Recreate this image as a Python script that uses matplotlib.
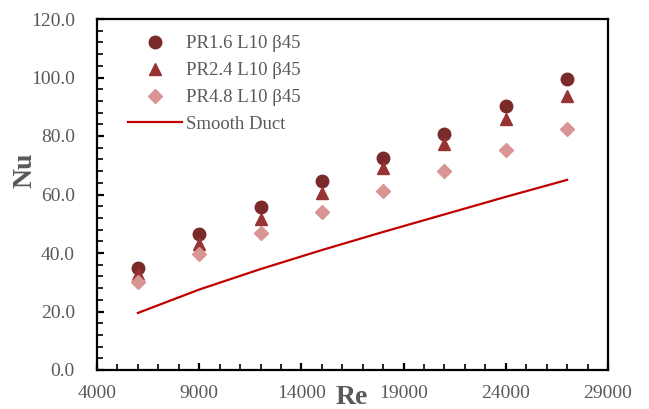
import matplotlib
matplotlib.use("Agg")
import matplotlib.pyplot as plt
from matplotlib.ticker import MultipleLocator, FormatStrFormatter, FixedLocator

re_vals = [6000, 9000, 12000, 15000, 18000, 21000, 24000, 27000]
nu_pr16 = [34.9, 46.4, 55.8, 64.5, 72.6, 80.8, 90.3, 99.5]
nu_pr24 = [32.8, 43.2, 51.6, 60.5, 69.0, 77.3, 85.8, 93.6]
nu_pr48 = [30.0, 39.6, 46.8, 54.0, 61.1, 68.0, 75.2, 82.4]
nu_smooth = [19.5, 27.5, 34.5, 41.0, 47.2, 53.2, 59.2, 65.0]

labels = ["PR1.6 L10 β45", "PR2.4 L10 β45", "PR4.8 L10 β45", "Smooth Duct"]
x_ticks = [4000, 9000, 14000, 19000, 24000, 29000]

plt.rcParams['font.family'] = ['Liberation Serif', 'DejaVu Serif']
gray = '#595959'

fig = plt.figure(figsize=(6.49, 4.09), dpi=100)
ax = fig.add_axes([97/649, 1-370/409, (608-97)/649, (370-19)/409])

ax.plot(re_vals, nu_pr16, 'o', color='#7B2A2A', markersize=9, label=labels[0], zorder=3)
ax.plot(re_vals, nu_pr24, '^', color='#983333', markersize=9, label=labels[1], zorder=3)
ax.plot(re_vals, nu_pr48, 'D', color='#D99594', markersize=7, label=labels[2], zorder=3)
ax.plot(re_vals, nu_smooth, '-', color='#C00000', linewidth=1.6, label=labels[3], zorder=2)

ax.set_xlim(4000, 29000)
ax.set_ylim(0, 120)
ax.xaxis.set_major_locator(FixedLocator(x_ticks))
ax.xaxis.set_minor_locator(MultipleLocator(1000))
ax.yaxis.set_major_locator(MultipleLocator(20))
ax.yaxis.set_minor_locator(MultipleLocator(4))
ax.yaxis.set_major_formatter(FormatStrFormatter('%.1f'))

for s in ax.spines.values():
    s.set_linewidth(1.6)
    s.set_color('black')
ax.tick_params(which='both', direction='in', colors='black', labelcolor=gray, labelsize=14)
ax.tick_params(which='major', length=5, width=1.6)
ax.tick_params(which='minor', length=4, width=1.2)
ax.tick_params(axis='x', which='major', pad=11)
ax.tick_params(axis='y', which='major', pad=16)

fig.text(352/649, 1-404/409, 'Re', fontsize=20, fontweight='bold', color=gray,
         ha='center', va='baseline')
fig.text(25/649, 1-170/409, 'Nu', fontsize=20, fontweight='bold', color=gray,
         ha='center', va='center', rotation=90)

leg = ax.legend(loc='upper left', bbox_to_anchor=(0.046, 0.975), frameon=False,
                fontsize=13.5, labelcolor=gray, handlelength=2.9, handletextpad=0.2,
                labelspacing=0.52, borderaxespad=0)

fig.savefig('out.png', dpi=100)
